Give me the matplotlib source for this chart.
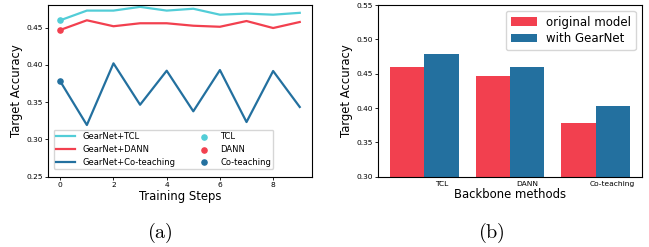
import matplotlib
matplotlib.use("Agg")
import matplotlib.pyplot as plt
import numpy as np

plt.rcParams['mathtext.fontset'] = 'cm'

# ---- data (a) ----
steps = list(range(10))
gearnet_tcl = [0.460, 0.473, 0.473, 0.478, 0.473, 0.4755, 0.4675, 0.469, 0.4675, 0.470]
gearnet_dann = [0.447, 0.460, 0.452, 0.456, 0.456, 0.4527, 0.4513, 0.459, 0.4496, 0.4577]
gearnet_cot = [0.378, 0.3194, 0.4022, 0.3466, 0.3923, 0.3378, 0.3932, 0.3234, 0.3919, 0.3436]
base_tcl = 0.460
base_dann = 0.447
base_cot = 0.378

# ---- data (b) ----
methods = ["TCL", "DANN", "Co-teaching"]
original_model = [0.4602, 0.4466, 0.378]
with_gearnet = [0.4787, 0.4598, 0.403]

c_cyan = '#52CDD7'
c_red = '#F2404F'
c_blue = '#23709F'

fig = plt.figure(figsize=(6.49, 2.47), dpi=100)
ax1 = fig.add_axes([0.0744, 0.2846, 0.4059, 0.6951])
ax2 = fig.add_axes([0.5829, 0.2846, 0.4059, 0.6951])

lw = 1.6
ax1.plot(steps, gearnet_tcl, color=c_cyan, lw=lw, label='GearNet+TCL')
ax1.plot(steps, gearnet_dann, color=c_red, lw=lw, label='GearNet+DANN')
ax1.plot(steps, gearnet_cot, color=c_blue, lw=lw, label='GearNet+Co-teaching')
ax1.scatter([steps[0]], [base_tcl], color=c_cyan, s=14, zorder=3, label='TCL')
ax1.scatter([steps[0]], [base_dann], color=c_red, s=14, zorder=3, label='DANN')
ax1.scatter([steps[0]], [base_cot], color=c_blue, s=14, zorder=3, label='Co-teaching')
ax1.set_ylim(0.25, 0.4805)
ax1.set_yticks([0.25, 0.30, 0.35, 0.40, 0.45])
ax1.set_xticks([0, 2, 4, 6, 8])
ax1.tick_params(labelsize=5.4, length=2.5, width=0.6, pad=1.5)
ax1.set_xlabel('Training Steps', fontsize=8.4, labelpad=1)
ax1.set_ylabel('Target Accuracy', fontsize=8.4, labelpad=2)
ax1.legend(ncol=2, loc='lower left', fontsize=6, frameon=True, fancybox=True,
           handlelength=2.3, columnspacing=2.3, labelspacing=0.45,
           borderpad=0.3, handletextpad=0.8, bbox_to_anchor=(0.005, 0.02))

x = np.arange(len(methods))
w = 0.4
ax2.bar(x - w/2, original_model, width=w, color=c_red, label='original model')
ax2.bar(x + w/2, with_gearnet, width=w, color=c_blue, label='with GearNet')
ax2.set_xticks(x + w/2)
ax2.set_xticklabels(methods)
ax2.set_ylim(0.30, 0.55)
ax2.set_yticks([0.30, 0.35, 0.40, 0.45, 0.50, 0.55])
ax2.tick_params(axis='y', labelsize=5.4, length=2.5, width=0.6, pad=1.5)
ax2.tick_params(axis='x', labelsize=5.4, length=0, pad=3)
ax2.set_xlabel('Backbone methods', fontsize=8.4, labelpad=1)
ax2.set_ylabel('Target Accuracy', fontsize=8.4, labelpad=2)
ax2.legend(loc='upper right', fontsize=8.5, handlelength=2.2, borderpad=0.4,
           labelspacing=0.3)

fig.text(0.246, 0.055, r'$\mathrm{(a)}$', fontsize=14.5, ha='center', va='center')
fig.text(0.7576, 0.055, r'$\mathrm{(b)}$', fontsize=14.5, ha='center', va='center')

fig.savefig('out.png', dpi=100)
